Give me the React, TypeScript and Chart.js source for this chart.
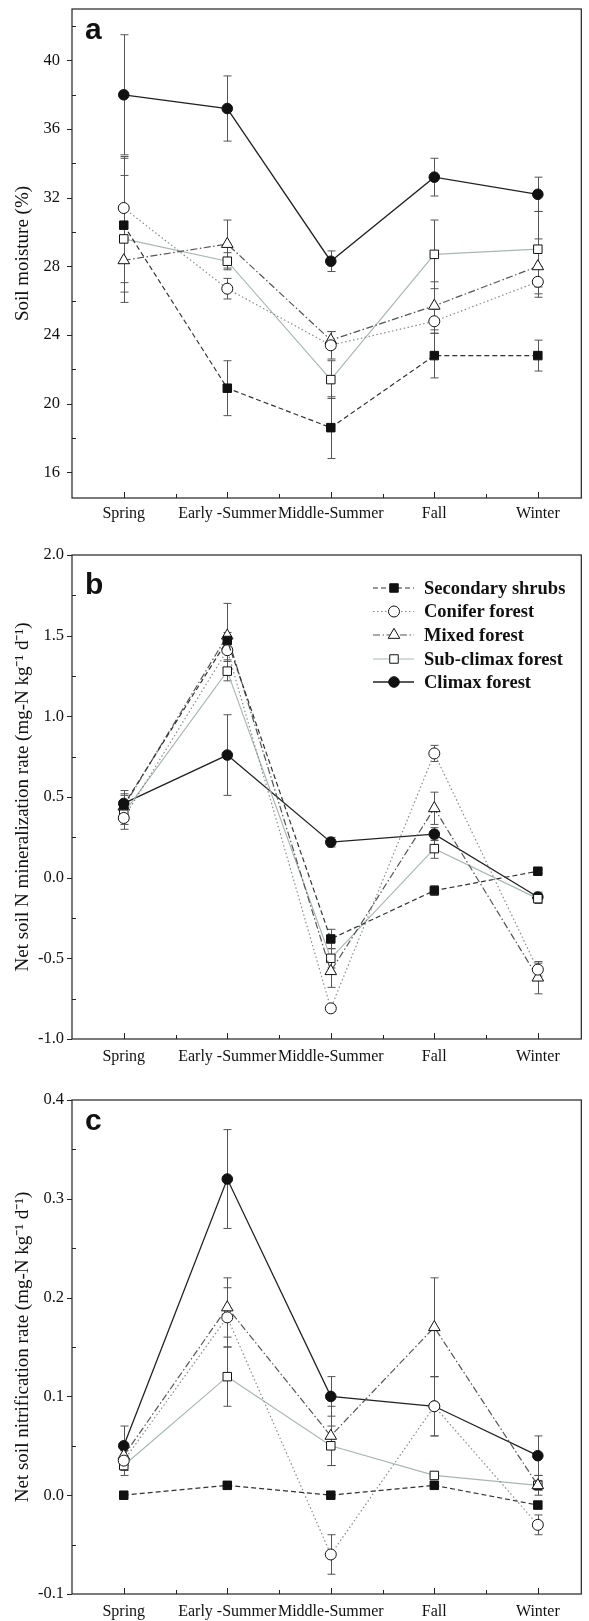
import React, { useEffect, useRef } from 'react';
import { Chart, registerables } from 'chart.js';

Chart.register(...registerables);

// ---------- data ----------
const categories = ['Spring', 'Early -Summer', 'Middle-Summer', 'Fall', 'Winter'];
const seriesNames = ['Secondary shrubs', 'Conifer forest', 'Mixed forest', 'Sub-climax forest', 'Climax forest'];

// (a) Soil moisture (%)
const moistShrubs = [30.4, 20.9, 18.6, 22.8, 22.8];
const moistShrubsErr = [3.9, 1.6, 1.8, 1.3, 0.9];
const moistConifer = [31.4, 26.7, 23.4, 24.8, 27.1];
const moistConiferErr = [3.0, 0.6, 0.8, 0.7, 0.9];
const moistMixed = [28.35, 29.3, 23.7, 25.7, 28.0];
const moistMixedErr = [1.3, 1.4, 0.5, 1.4, 1.6];
const moistSub = [29.6, 28.3, 21.4, 28.7, 29.0];
const moistSubErr = [3.7, 0.5, 1.1, 2.0, 2.2];
const moistClimax = [38.0, 37.2, 28.3, 33.2, 32.2];
const moistClimaxErr = [3.5, 1.9, 0.6, 1.1, 1.0];
const moistTicks = [16, 20, 24, 28, 32, 36, 40];

// (b) Net soil N mineralization rate
const minShrubs = [0.45, 1.47, -0.38, -0.08, 0.04];
const minShrubsErr = [0.07, 0.05, 0.06, 0.03, 0.01];
const minConifer = [0.37, 1.41, -0.81, 0.77, -0.57];
const minConiferErr = [0.07, 0.06, 0.02, 0.05, 0.04];
const minMixed = [0.44, 1.5, -0.58, 0.43, -0.62];
const minMixedErr = [0.07, 0.2, 0.1, 0.1, 0.1];
const minSub = [0.4, 1.28, -0.5, 0.18, -0.13];
const minSubErr = [0.07, 0.06, 0.06, 0.06, 0.03];
const minClimax = [0.46, 0.76, 0.22, 0.27, -0.12];
const minClimaxErr = [0.08, 0.25, 0.03, 0.04, 0.03];
const minTicks = [-1.0, -0.5, 0.0, 0.5, 1.0, 1.5, 2.0];

// (c) Net soil nitrification rate
const nitShrubs = [0.0, 0.01, 0.0, 0.01, -0.01];
const nitShrubsErr = [0, 0, 0, 0, 0];
const nitConifer = [0.035, 0.18, -0.06, 0.09, -0.03];
const nitConiferErr = [0.01, 0.03, 0.02, 0.03, 0.01];
const nitMixed = [0.04, 0.19, 0.06, 0.17, 0.01];
const nitMixedErr = [0.01, 0.03, 0.03, 0.05, 0.01];
const nitSub = [0.03, 0.12, 0.05, 0.02, 0.01];
const nitSubErr = [0.01, 0.03, 0.02, 0.003, 0.005];
const nitClimax = [0.05, 0.32, 0.1, 0.09, 0.04];
const nitClimaxErr = [0.02, 0.05, 0.02, 0.03, 0.02];
const nitTicks = [-0.1, 0.0, 0.1, 0.2, 0.3, 0.4];

// ---------- styles ----------
type Sty = { color: string; dash: number[]; point: string; filled: boolean; r: number; w: number };
const styles: Sty[] = [
  { color: '#333333', dash: [5, 3], point: 'rect', filled: true, r: 6, w: 1.2 },
  { color: '#8a8a8a', dash: [1.5, 2.5], point: 'circle', filled: false, r: 5.5, w: 1.2 },
  { color: '#555555', dash: [7, 2.5, 1.5, 2.5], point: 'triangle', filled: false, r: 6.7, w: 1.2 },
  { color: '#a9b7b3', dash: [], point: 'rect', filled: false, r: 6, w: 1.2 },
  { color: '#222222', dash: [], point: 'circle', filled: true, r: 5.3, w: 1.3 },
];

const SERIF = '"Liberation Serif", "Times New Roman", serif';
const SANS = '"Liberation Sans", Arial, sans-serif';

type PanelCfg = {
  key: string;
  top: number;
  height: number;
  padTop: number;
  xAxisH: number;
  xPad: number;
  yPad: number;
  yMin: number;
  yMax: number;
  minorStep: number;
  majors: number[];
  fmt: (v: number) => string;
  title: string;
  letter: string;
  letterDy: number;
  legend: boolean;
  series: [number[], number[]][];
};

const panels: PanelCfg[] = [
  {
    key: 'a', top: 0, height: 530, padTop: 9, xAxisH: 32, xPad: 6, yPad: 12, yMin: 14.5, yMax: 43, minorStep: 2,
    majors: moistTicks, fmt: (v) => String(v), title: 'Soil moisture (%)', letter: 'a', letterDy: 30, legend: false,
    series: [[moistShrubs, moistShrubsErr], [moistConifer, moistConiferErr], [moistMixed, moistMixedErr], [moistSub, moistSubErr], [moistClimax, moistClimaxErr]],
  },
  {
    key: 'b', top: 530, height: 545, padTop: 25, xAxisH: 36, xPad: 8, yPad: 8, yMin: -1, yMax: 2, minorStep: 0.25,
    majors: minTicks, fmt: (v) => v.toFixed(1), title: 'Net soil N mineralization rate (mg-N kg\u207B\u00B9 d\u207B\u00B9)', letter: 'b', letterDy: 39, legend: true,
    series: [[minShrubs, minShrubsErr], [minConifer, minConiferErr], [minMixed, minMixedErr], [minSub, minSubErr], [minClimax, minClimaxErr]],
  },
  {
    key: 'c', top: 1075, height: 546, padTop: 25, xAxisH: 27, xPad: 8, yPad: 8, yMin: -0.1, yMax: 0.4, minorStep: 0.05,
    majors: nitTicks, fmt: (v) => v.toFixed(1), title: 'Net soil nitrification rate (mg-N kg\u207B\u00B9 d\u207B\u00B9)', letter: 'c', letterDy: 30, legend: false,
    series: [[nitShrubs, nitShrubsErr], [nitConifer, nitConiferErr], [nitMixed, nitMixedErr], [nitSub, nitSubErr], [nitClimax, nitClimaxErr]],
  },
];

function drawMarker(ctx: CanvasRenderingContext2D, s: Sty, x: number, y: number) {
  ctx.save();
  ctx.setLineDash([]);
  ctx.lineWidth = 1;
  ctx.strokeStyle = '#111';
  ctx.fillStyle = s.filled ? '#111' : '#fff';
  ctx.beginPath();
  if (s.point === 'circle') {
    ctx.arc(x, y, s.r, 0, Math.PI * 2);
  } else if (s.point === 'rect') {
    const h = s.r * Math.SQRT1_2;
    ctx.rect(x - h, y - h, 2 * h, 2 * h);
  } else {
    let a = 0;
    ctx.moveTo(x + Math.sin(a) * s.r, y - Math.cos(a) * s.r);
    a += (2 * Math.PI) / 3;
    ctx.lineTo(x + Math.sin(a) * s.r, y - Math.cos(a) * s.r);
    a += (2 * Math.PI) / 3;
    ctx.lineTo(x + Math.sin(a) * s.r, y - Math.cos(a) * s.r);
    ctx.closePath();
  }
  ctx.fill();
  ctx.stroke();
  ctx.restore();
}

function makeDecor(cfg: PanelCfg) {
  return {
    id: 'decor' + cfg.key,
    beforeDatasetsDraw(chart: any) {
      const { ctx } = chart;
      const xs = chart.scales.x;
      const ys = chart.scales.y;
      ctx.save();
      ctx.lineWidth = 1;
      ctx.setLineDash([]);
      ctx.strokeStyle = '#555';
      chart.data.datasets.forEach((ds: any) => {
        ds.data.forEach((p: any, i: number) => {
          const e = ds.errors[i];
          if (!e) return;
          const x = Math.round(xs.getPixelForValue(p.x)) + 0.5;
          const y1 = ys.getPixelForValue(p.y + e);
          const y2 = ys.getPixelForValue(p.y - e);
          ctx.beginPath();
          ctx.moveTo(x, y1);
          ctx.lineTo(x, y2);
          ctx.moveTo(x - 4, y1);
          ctx.lineTo(x + 4, y1);
          ctx.moveTo(x - 4, y2);
          ctx.lineTo(x + 4, y2);
          ctx.stroke();
        });
      });
      ctx.restore();
    },
    afterDraw(chart: any) {
      const { ctx, chartArea } = chart;
      const { left, right, top, bottom } = chartArea;
      const xs = chart.scales.x;
      const ys = chart.scales.y;
      ctx.save();
      // frame
      ctx.strokeStyle = '#222';
      ctx.lineWidth = 1.2;
      ctx.setLineDash([]);
      ctx.strokeRect(left, top, right - left, bottom - top);
      // x ticks (inward)
      ctx.lineWidth = 1;
      ctx.beginPath();
      categories.forEach((_, i) => {
        const x = Math.round(xs.getPixelForValue(i)) + 0.5;
        ctx.moveTo(x, bottom);
        ctx.lineTo(x, bottom - 6);
        if (i < categories.length - 1) {
          const xm = Math.round(xs.getPixelForValue(i + 0.5)) + 0.5;
          ctx.moveTo(xm, bottom);
          ctx.lineTo(xm, bottom - 4);
        }
      });
      // y ticks: majors outward, minors inward
      cfg.majors.forEach((v) => {
        const y = Math.round(ys.getPixelForValue(v)) + 0.5;
        ctx.moveTo(left - 5, y);
        ctx.lineTo(left, y);
      });
      const n = Math.round((cfg.yMax - cfg.yMin) / cfg.minorStep) + 2;
      const start = Math.ceil(cfg.yMin / cfg.minorStep);
      for (let k = start; k < start + n; k++) {
        const v = k * cfg.minorStep;
        if (v <= cfg.yMin + 1e-9 || v >= cfg.yMax - 1e-9) continue;
        if (cfg.majors.some((m) => Math.abs(m - v) < 1e-9)) continue;
        const y = Math.round(ys.getPixelForValue(v)) + 0.5;
        ctx.moveTo(left, y);
        ctx.lineTo(left + 4, y);
      }
      ctx.stroke();
      // panel letter
      ctx.fillStyle = '#111';
      ctx.font = 'bold 30px ' + SANS;
      ctx.textBaseline = 'alphabetic';
      ctx.textAlign = 'left';
      ctx.fillText(cfg.letter, left + 13, top + cfg.letterDy);
      // legend
      if (cfg.legend) {
        const rows = [33, 56.5, 80, 104, 127];
        ctx.font = 'bold 18.5px ' + SERIF;
        ctx.textBaseline = 'middle';
        styles.forEach((s, i) => {
          const y = top + rows[i];
          ctx.save();
          ctx.strokeStyle = s.color;
          ctx.lineWidth = s.w;
          ctx.setLineDash(s.dash);
          ctx.beginPath();
          ctx.moveTo(373, y);
          ctx.lineTo(414, y);
          ctx.stroke();
          ctx.restore();
          drawMarker(ctx, s, 394, y);
          ctx.fillStyle = '#111';
          ctx.fillText(seriesNames[i], 424, y + 1);
        });
      }
      ctx.restore();
    },
  };
}

function Panel({ cfg }: { cfg: PanelCfg }) {
  const ref = useRef<HTMLCanvasElement>(null);
  useEffect(() => {
    const datasets = cfg.series.map(([vals, errs], i) => {
      const s = styles[i];
      return {
        label: seriesNames[i],
        data: vals.map((v, j) => ({ x: j, y: v })),
        errors: errs,
        borderColor: s.color,
        borderWidth: s.w,
        borderDash: s.dash,
        pointStyle: s.point,
        pointRadius: s.r,
        pointHoverRadius: s.r,
        pointBackgroundColor: s.filled ? '#111' : '#fff',
        pointBorderColor: '#111',
        pointBorderWidth: 1,
        fill: false,
        tension: 0,
      };
    });
    const chart = new Chart(ref.current as HTMLCanvasElement, {
      type: 'line',
      data: { datasets: datasets as any },
      options: {
        responsive: false,
        animation: false,
        devicePixelRatio: 1,
        layout: { padding: { top: cfg.padTop, right: 5, left: 0, bottom: 0 } },
        plugins: { legend: { display: false }, tooltip: { enabled: false } },
        scales: {
          x: {
            type: 'linear',
            min: -0.5,
            max: 4.42,
            grid: { display: false, drawTicks: false },
            border: { display: false },
            afterBuildTicks: (s: any) => {
              s.ticks = categories.map((_, i) => ({ value: i }));
            },
            afterFit: (s: any) => {
              s.height = cfg.xAxisH;
              s.paddingLeft = 0;
              s.paddingRight = 0;
            },
            ticks: {
              autoSkip: false,
              maxRotation: 0,
              padding: cfg.xPad,
              color: '#111',
              font: { family: SERIF, size: 16 },
              callback: (v: any) => categories[Math.round(Number(v))] ?? '',
            },
          },
          y: {
            type: 'linear',
            min: cfg.yMin,
            max: cfg.yMax,
            grid: { display: false, drawTicks: false },
            border: { display: false },
            afterBuildTicks: (s: any) => {
              s.ticks = cfg.majors.map((v) => ({ value: v }));
            },
            afterFit: (s: any) => {
              s.width = 72;
              s.paddingTop = 0;
              s.paddingBottom = 0;
            },
            ticks: {
              padding: cfg.yPad,
              color: '#111',
              font: { family: SERIF, size: 16.5 },
              callback: (v: any) => cfg.fmt(Number(v)),
            },
            title: {
              display: true,
              text: cfg.title,
              color: '#111',
              font: { family: SERIF, size: 19 },
              padding: { top: 12, bottom: 0 },
            },
          },
        },
      } as any,
      plugins: [makeDecor(cfg)],
    });
    return () => chart.destroy();
  }, []);
  return (
    <canvas
      ref={ref}
      width={589}
      height={cfg.height}
      style={{ position: 'absolute', left: 0, top: cfg.top, width: 589, height: cfg.height, display: 'block' }}
    />
  );
}

export default function App() {
  return (
    <div style={{ position: 'absolute', left: 0, top: 0, width: 589, height: 1621, background: '#fff' }}>
      {panels.map((p) => (
        <Panel key={p.key} cfg={p} />
      ))}
    </div>
  );
}
